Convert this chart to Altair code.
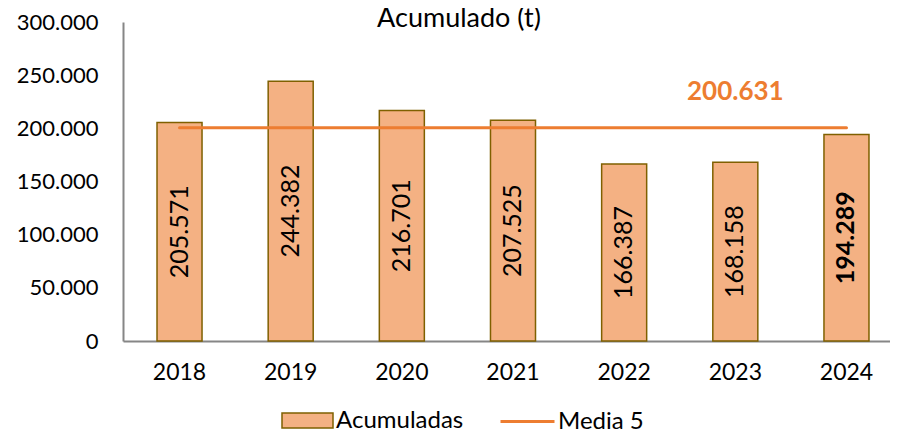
import altair as alt
import pandas as pd

title_text = "Acumulado (t)"
years = ["2018", "2019", "2020", "2021", "2022", "2023", "2024"]
acumuladas = [205571, 244382, 216701, 207525, 166387, 168158, 194289]
media5 = [200631, 200631, 200631, 200631, 200631, 200631, 200631]
series_names = ["Acumuladas", "Media 5"]
media_label_year = "2023"
bold_year = "2024"
y_ticks = [0, 50000, 100000, 150000, 200000, 250000, 300000]

df = pd.DataFrame({"year": years, "acum": acumuladas, "media": media5})

FONT = "Lato"
BAR_FILL = "#F4B183"
BAR_STROKE = "#7F6000"
LINE_COLOR = "#ED7D31"
AXIS_GRAY = "#868686"

x = alt.X(
    "year:N", sort=years,
    scale=alt.Scale(range=[0, 780], paddingInner=0.595, paddingOuter=0.306),
    axis=alt.Axis(title=None, labelAngle=0, labelFontSize=23, labelFont=FONT,
                  labelColor="#000000", labelPadding=20, ticks=False,
                  domainColor=AXIS_GRAY, domainWidth=2),
)
y_scale = alt.Scale(domain=[0, 300000], nice=False)
y_axis = alt.Axis(title=None, values=y_ticks, format=",d", grid=False, ticks=False,
                  labelFontSize=22, labelFont=FONT, labelColor="#000000",
                  labelPadding=25, domainColor=AXIS_GRAY, domainWidth=2)

base = alt.Chart(df)

bars = base.transform_calculate(serie=f"'{series_names[0]}'").mark_bar(
    stroke=BAR_STROKE, strokeWidth=1.5
).encode(
    x=x,
    y=alt.Y("acum:Q", scale=y_scale, axis=y_axis),
    fill=alt.Fill(
        "serie:N",
        scale=alt.Scale(domain=[series_names[0]], range=[BAR_FILL]),
        legend=alt.Legend(
            title=None, orient="none", legendX=158, legendY=372,
            symbolType="M-1,-0.294H1V0.294H-1Z", symbolSize=2601,
            symbolStrokeColor=BAR_STROKE, symbolStrokeWidth=1.5,
            symbolFillColor=BAR_FILL,
            labelFontSize=24, labelFont=FONT, labelColor="#000000",
            labelOffset=2, padding=0,
        ),
    ),
)


def bar_labels(filter_expr, weight):
    return base.transform_filter(filter_expr).transform_calculate(
        mid="datum.acum / 2"
    ).mark_text(
        angle=270, fontSize=25, font=FONT, color="#000000", align="center",
        baseline="middle", fontWeight=weight,
    ).encode(
        x=x,
        y=alt.Y("mid:Q", scale=y_scale, axis=y_axis),
        text=alt.Text("acum:Q", format=",d"),
    )


labels = bar_labels(f"datum.year != '{bold_year}'", "normal")
labels_bold = bar_labels(f"datum.year == '{bold_year}'", "bold")

line = base.transform_calculate(serie_m=f"'{series_names[1]}'").mark_line(
    strokeWidth=3, strokeCap="round"
).encode(
    x=x,
    y=alt.Y("media:Q", scale=y_scale, axis=y_axis),
    stroke=alt.Stroke(
        "serie_m:N",
        scale=alt.Scale(domain=[series_names[1]], range=[LINE_COLOR]),
        legend=alt.Legend(
            title=None, orient="none", legendX=376, legendY=371,
            symbolType="stroke", symbolSize=2916, symbolStrokeWidth=3,
            labelFontSize=24, labelFont=FONT, labelColor="#000000",
            labelOffset=2, padding=0,
        ),
    ),
)

media_label = base.transform_filter(f"datum.year == '{media_label_year}'").mark_text(
    fontSize=26, font=FONT, fontWeight="bold", color=LINE_COLOR, dy=-36
).encode(
    x=x,
    y=alt.Y("media:Q", scale=y_scale, axis=y_axis),
    text=alt.Text("media:Q", format=",d"),
)

title_mark = alt.Chart(pd.DataFrame({"t": [title_text]})).mark_text(
    fontSize=27, font=FONT, color="#000000", align="center", baseline="alphabetic"
).encode(
    text="t:N",
    x=alt.value(336),
    y=alt.value(5),
)

chart = alt.layer(bars, labels, labels_bold, line, media_label, title_mark).properties(
    width=767,
    height=319,
    autosize=alt.AutoSizeParams(type="none"),
    padding={"left": 115, "top": 14, "right": 0, "bottom": 89},
).configure_view(stroke=None)

chart.save("out.html", embed_options={
    "renderer": "svg", "actions": False,
    "formatLocale": {"decimal": ",", "thousands": ".", "grouping": [3], "currency": ["", " €"]},
})
